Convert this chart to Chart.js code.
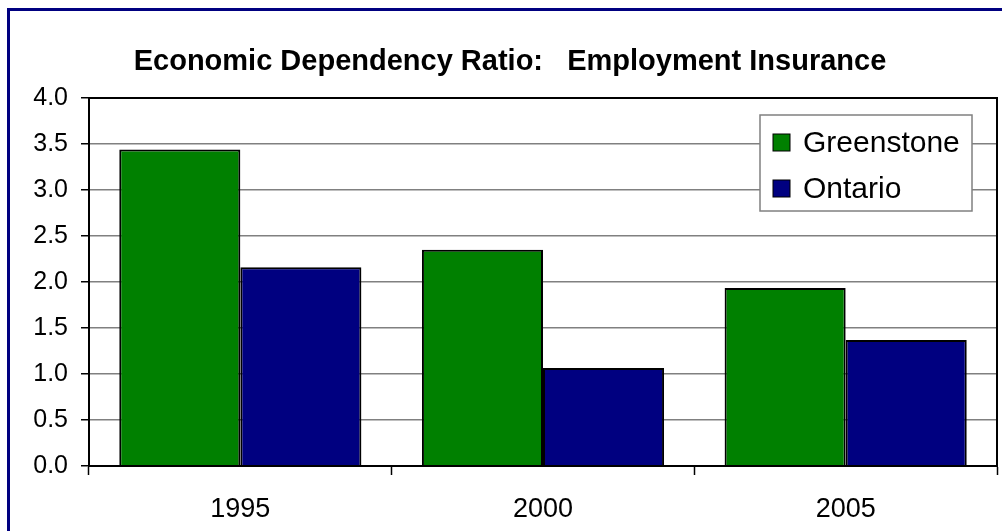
<!DOCTYPE html>
<html>
<head>
<meta charset="utf-8">
<script src="https://cdn.jsdelivr.net/npm/chart.js@4.4.1/dist/chart.umd.min.js"></script>
<style>
    html, body { margin: 0; padding: 0; background: #fff; overflow: hidden; }
    #wrap { position: relative; width: 1002px; height: 531px; overflow: hidden; }
    #chart { display: block; }
    #frame {
        position: absolute; left: 7px; top: 8px; width: 1100px; height: 600px;
        border-top: 3px solid #000080; border-left: 3px solid #000080;
        pointer-events: none;
    }
</style>
</head>
<body>
<div id="wrap">
    <canvas id="chart" width="1002" height="531"></canvas>
    <div id="frame"></div>
</div>
<script>
(function () {
    'use strict';

    var TITLE      = 'Economic Dependency Ratio:   Employment Insurance';
    var YEARS      = ['1995', '2000', '2005'];
    var GREENSTONE = [3.44, 2.35, 1.935];
    var ONTARIO    = [2.16, 1.065, 1.37];
    var Y_TICKS    = [0, 0.5, 1, 1.5, 2, 2.5, 3, 3.5, 4];

    var FONT = 'Arial, "Liberation Sans", sans-serif';

    // Title drawn centred over the picture, like the original sheet.
    var titlePlugin = {
        id: 'sheetTitle',
        afterDraw: function (chart) {
            var ctx = chart.ctx;
            ctx.save();
            ctx.font = 'bold 29px ' + FONT;
            ctx.fillStyle = '#000';
            ctx.textAlign = 'center';
            ctx.textBaseline = 'middle';
            ctx.fillText(TITLE, 510, 62);
            ctx.restore();
        }
    };

    // Black box around the plot area.
    var plotBorder = {
        id: 'plotBorder',
        afterDatasetsDraw: function (chart) {
            var a = chart.chartArea;
            var ctx = chart.ctx;
            ctx.save();
            ctx.strokeStyle = '#000';
            ctx.lineWidth = 2;
            ctx.strokeRect(a.left, a.top, a.right - a.left, a.bottom - a.top);
            ctx.restore();
        }
    };

    // Boxed legend inside the plot, top right.
    var boxLegend = {
        id: 'boxLegend',
        afterDraw: function (chart) {
            var ctx = chart.ctx;
            var x = 760, y = 115, w = 212, h = 96;
            ctx.save();
            ctx.fillStyle = '#fff';
            ctx.fillRect(x, y, w, h);
            ctx.strokeStyle = '#808080';
            ctx.lineWidth = 1.5;
            ctx.strokeRect(x, y, w, h);
            ctx.font = '30px ' + FONT;
            ctx.textBaseline = 'middle';
            chart.data.datasets.forEach(function (ds, i) {
                var cy = y + 28 + i * 46;
                ctx.fillStyle = ds.backgroundColor;
                ctx.fillRect(x + 13, cy - 9, 17, 17);
                ctx.strokeStyle = '#000';
                ctx.lineWidth = 1;
                ctx.strokeRect(x + 13, cy - 9, 17, 17);
                ctx.fillStyle = '#000';
                ctx.fillText(ds.label, x + 43, cy + 1);
            });
            ctx.restore();
        }
    };

    new Chart(document.getElementById('chart').getContext('2d'), {
        type: 'bar',
        data: {
            labels: YEARS,
            datasets: [{
                label: 'Greenstone',
                data: GREENSTONE,
                backgroundColor: '#008000',
                borderColor: '#000',
                borderWidth: 2,
                borderSkipped: 'bottom'
            }, {
                label: 'Ontario',
                data: ONTARIO,
                backgroundColor: '#000080',
                borderColor: '#000',
                borderWidth: 2,
                borderSkipped: 'bottom'
            }]
        },
        options: {
            responsive: false,
            animation: false,
            layout: { padding: { top: 98, right: 5, bottom: 0, left: 0 } },
            datasets: { bar: { categoryPercentage: 0.8, barPercentage: 1.0 } },
            plugins: {
                legend: { display: false },
                title: { display: false },
                tooltip: { enabled: false }
            },
            scales: {
                x: {
                    grid: {
                        offset: true,
                        drawOnChartArea: false,
                        tickLength: 9,
                        tickColor: '#000',
                        tickWidth: 1.5
                    },
                    border: { color: '#000', width: 2 },
                    ticks: {
                        color: '#000',
                        padding: 18,
                        font: { family: FONT, size: 27 }
                    },
                    afterFit: function (scale) { scale.height = 65; }
                },
                y: {
                    min: 0,
                    max: 4,
                    afterBuildTicks: function (scale) {
                        scale.ticks = Y_TICKS.map(function (v) { return { value: v }; });
                    },
                    grid: {
                        color: function (c) {
                            var v = c.tick ? c.tick.value : 0;
                            return (v === 0 || v === 4) ? 'rgba(0,0,0,0)' : '#808080';
                        },
                        lineWidth: 1.5,
                        tickLength: 8,
                        tickColor: '#000',
                        tickWidth: 1.5
                    },
                    border: { color: '#000', width: 2 },
                    ticks: {
                        color: '#000',
                        padding: 13,
                        font: { family: FONT, size: 25 },
                        callback: function (v) { return Number(v).toFixed(1); }
                    },
                    afterFit: function (scale) { scale.width = 89; }
                }
            }
        },
        plugins: [plotBorder, boxLegend, titlePlugin]
    });
}());
</script>
</body>
</html>
